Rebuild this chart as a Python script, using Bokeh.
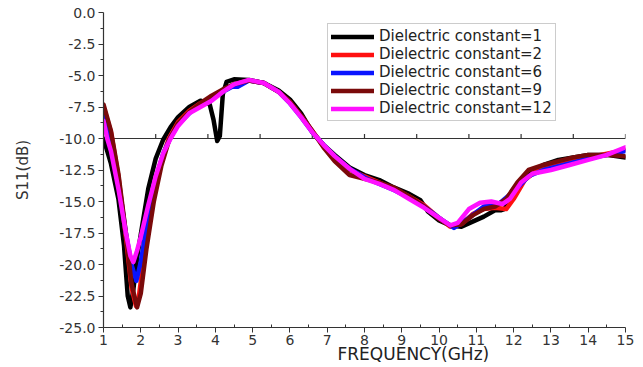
import numpy as np
from bokeh.plotting import figure
from bokeh.models import (FixedTicker, Legend, LegendItem, Title, Range1d,
                          CustomJSTickFormatter)
from bokeh.embed import file_html
from bokeh.resources import INLINE

# Return loss S11 (dB) versus frequency (GHz) for five substrate permittivities
freq_1 = [1.0, 1.2, 1.4, 1.55, 1.65, 1.72, 1.8, 1.9, 2.0, 2.2, 2.4, 2.6, 2.8, 3.0,
          3.3, 3.6, 3.85, 3.95, 4.05, 4.12, 4.2, 4.3, 4.5, 4.9, 5.3, 5.7, 6.0, 6.3,
          6.6, 6.9, 7.2, 7.6, 8.0, 8.4, 8.8, 9.2, 9.5, 9.7, 10.0, 10.3, 10.6, 10.9,
          11.2, 11.5, 11.65, 11.75, 12.0, 12.4, 12.8, 13.2, 13.6, 14.0, 14.5, 15.0]
s11_1 = [-10.0, -12.0, -14.8, -18.5, -22.5, -23.4, -22.0, -19.5, -17.6, -14.0, -11.6,
         -10.1, -9.1, -8.3, -7.5, -7.0, -7.3, -8.5, -10.2, -9.8, -6.5, -5.5, -5.3,
         -5.35, -5.6, -6.2, -6.9, -8.0, -9.5, -10.5, -11.3, -12.3, -12.9, -13.3,
         -13.9, -14.4, -14.9, -15.8, -16.5, -16.9, -17.0, -16.6, -16.2, -15.7, -15.7,
         -15.6, -14.4, -12.7, -12.1, -11.7, -11.5, -11.3, -11.3, -11.5]

freq_2 = [1.0, 1.2, 1.4, 1.6, 1.75, 1.87, 1.95, 2.1, 2.3, 2.5, 2.75, 3.0, 3.3, 3.6,
          3.9, 4.2, 4.5, 4.9, 5.3, 5.7, 6.0, 6.3, 6.6, 6.9, 7.2, 7.6, 8.0, 8.4, 8.8,
          9.2, 9.6, 10.0, 10.3, 10.6, 10.9, 11.2, 11.5, 11.8, 12.0, 12.3, 12.6, 13.0,
          13.5, 14.0, 14.5, 15.0]
s11_2 = [-7.5, -9.5, -13.0, -17.8, -21.8, -23.3, -22.5, -19.0, -15.0, -12.2, -10.0,
         -8.7, -7.8, -7.2, -6.8, -6.2, -5.7, -5.4, -5.6, -6.3, -7.1, -8.2, -9.4,
         -10.6, -11.5, -12.5, -13.0, -13.5, -14.0, -14.6, -15.3, -16.3, -17.0,
         -16.8, -16.0, -15.6, -15.5, -15.6, -14.8, -13.3, -12.6, -12.2, -11.8,
         -11.5, -11.2, -10.9]

freq_6 = [1.0, 1.2, 1.4, 1.6, 1.75, 1.88, 2.0, 2.2, 2.4, 2.6, 2.8, 3.0, 3.3, 3.6,
          3.9, 4.2, 4.45, 4.6, 4.9, 5.3, 5.7, 6.0, 6.3, 6.6, 6.9, 7.2, 7.6, 8.0, 8.4,
          8.8, 9.2, 9.6, 10.0, 10.4, 10.8, 11.2, 11.6, 12.0, 12.4, 12.8, 13.2, 13.6,
          14.0, 14.5, 15.0]
s11_6 = [-8.0, -10.0, -13.3, -17.5, -20.0, -21.3, -19.8, -16.2, -13.3, -11.2, -9.9,
         -8.9, -8.0, -7.3, -6.8, -6.3, -5.9, -5.9, -5.4, -5.6, -6.3, -7.2, -8.3,
         -9.5, -10.5, -11.4, -12.4, -13.1, -13.6, -14.1, -14.7, -15.4, -16.3,
         -17.1, -16.3, -15.4, -15.2, -14.2, -13.0, -12.5, -12.2, -11.9, -11.6,
         -11.3, -11.0]

freq_9 = [1.0, 1.2, 1.4, 1.6, 1.75, 1.9, 2.0, 2.15, 2.35, 2.55, 2.75, 3.0, 3.3, 3.6,
          3.9, 4.2, 4.5, 4.9, 5.3, 5.7, 6.0, 6.3, 6.6, 6.9, 7.2, 7.6, 8.0, 8.4, 8.8,
          9.2, 9.6, 10.0, 10.3, 10.6, 10.9, 11.2, 11.5, 11.8, 12.1, 12.4, 12.8, 13.2,
          13.6, 14.0, 14.5, 15.0]
s11_9 = [-7.3, -9.4, -12.8, -17.5, -21.5, -23.4, -22.3, -18.8, -15.0, -12.2, -10.2,
         -8.8, -7.9, -7.2, -6.6, -6.1, -5.7, -5.4, -5.6, -6.3, -7.1, -8.2, -9.4,
         -10.7, -11.8, -12.9, -13.2, -13.5, -13.9, -14.6, -15.4, -16.4, -16.9,
         -16.8, -16.1, -15.6, -15.4, -14.8, -13.5, -12.5, -12.1, -11.8, -11.5,
         -11.3, -11.3, -11.4]

freq_12 = [1.0, 1.1, 1.2, 1.4, 1.6, 1.72, 1.8, 1.9, 2.0, 2.2, 2.4, 2.6, 2.8, 3.0,
           3.3, 3.6, 3.9, 4.2, 4.5, 4.9, 5.3, 5.7, 6.0, 6.3, 6.6, 6.9, 7.2, 7.6,
           8.0, 8.4, 8.8, 9.2, 9.6, 10.0, 10.3, 10.5, 10.8, 11.1, 11.4, 11.7, 11.9,
           12.2, 12.5, 13.0, 13.5, 14.0, 14.5, 15.0]
s11_12 = [-8.6, -10.0, -11.0, -14.0, -17.5, -19.3, -19.8, -18.9, -17.8, -15.3,
          -13.0, -11.2, -10.0, -9.0, -8.0, -7.5, -7.0, -6.3, -5.7, -5.35, -5.6,
          -6.3, -7.2, -8.3, -9.5, -10.5, -11.4, -12.4, -13.2, -13.6, -14.1, -14.8,
          -15.5, -16.3, -16.9, -16.7, -15.6, -15.1, -15.0, -15.2, -14.8, -13.5,
          -12.8, -12.5, -12.1, -11.7, -11.3, -10.7]

series_labels = ["Dielectric constant=1", "Dielectric constant=2",
                 "Dielectric constant=6", "Dielectric constant=9",
                 "Dielectric constant=12"]
series_colors = ["#000000", "#ff1010", "#0a14ff", "#7a0a0a", "#ff10ff"]

x_ticks = list(range(1, 16))
y_ticks = [-25.0, -22.5, -20.0, -17.5, -15.0, -12.5, -10.0, -7.5, -5.0, -2.5, 0.0]
ref_level = -10.0

FONT = "DejaVu Sans"
INK = "#333333"

p = figure(width=643, height=367, output_backend="svg", toolbar_location=None,
           x_range=Range1d(1, 15), y_range=Range1d(-25, 0),
           min_border_left=103, min_border_right=18, min_border_top=12,
           min_border_bottom=40)
p.outline_line_color = None
p.xgrid.visible = False
p.ygrid.visible = False

# axes
xa = p.xaxis[0]
xa.ticker = FixedTicker(ticks=x_ticks,
                        minor_ticks=[t + 0.5 for t in x_ticks[:-1]])
ya = p.yaxis[0]
ya.ticker = FixedTicker(ticks=y_ticks,
                        minor_ticks=[t + 1.25 for t in y_ticks[:-1]])
ya.formatter = CustomJSTickFormatter(code="return tick.toFixed(1);")

for ax in (xa, ya):
    ax.axis_line_color = INK
    ax.axis_line_width = 1.2
    ax.major_tick_line_color = INK
    ax.minor_tick_line_color = INK
    ax.major_tick_out = 5
    ax.major_tick_in = 0
    ax.major_label_text_font = FONT
    ax.major_label_text_font_size = "14px"
    ax.major_label_text_color = INK
    ax.major_label_standoff = 3
xa.minor_tick_in = 3
xa.minor_tick_out = 0
xa.major_label_standoff = 2
ya.minor_tick_in = 0
ya.minor_tick_out = 3

ya.axis_label = "S11(dB)"
ya.axis_label_text_font = FONT
ya.axis_label_text_font_size = "15px"
ya.axis_label_text_font_style = "normal"
ya.axis_label_text_color = INK
ya.axis_label_standoff = 24

# reference line at -10 dB with its own ten divisions
p.line([1, 15], [ref_level, ref_level], line_color=INK, line_width=1.2)
ref_ticks = np.linspace(1, 15, 11)
p.segment(x0=ref_ticks, y0=[ref_level] * len(ref_ticks), x1=ref_ticks,
          y1=[ref_level + 0.35] * len(ref_ticks), line_color=INK, line_width=1.2)

# curves
all_freq = [freq_1, freq_2, freq_6, freq_9, freq_12]
all_s11 = [s11_1, s11_2, s11_6, s11_9, s11_12]
items = []
for f, s, lab, col in zip(all_freq, all_s11, series_labels, series_colors):
    r = p.line(f, s, line_color=col, line_width=4.5, line_join="round",
               line_cap="round")
    items.append(LegendItem(label=lab, renderers=[r]))

legend = Legend(items=items, location=(224, 206), orientation="vertical",
                label_text_font=FONT, label_text_font_size="15px",
                label_text_color="#222222", label_standoff=5,
                glyph_width=43, glyph_height=17, label_height=17,
                spacing=0, padding=3, margin=0,
                border_line_color="#999999", border_line_width=1,
                background_fill_color="white", background_fill_alpha=1)
p.add_layout(legend, "center")

# x-axis title, set to the right of centre just under the tick labels
p.add_layout(Title(text="FREQUENCY(GHz)", align="left", offset=234,
                   standoff=-11, text_font=FONT, text_font_size="17px",
                   text_font_style="normal", text_color="#222222"), "below")

open("out.html", "w").write(file_html(p, INLINE))
